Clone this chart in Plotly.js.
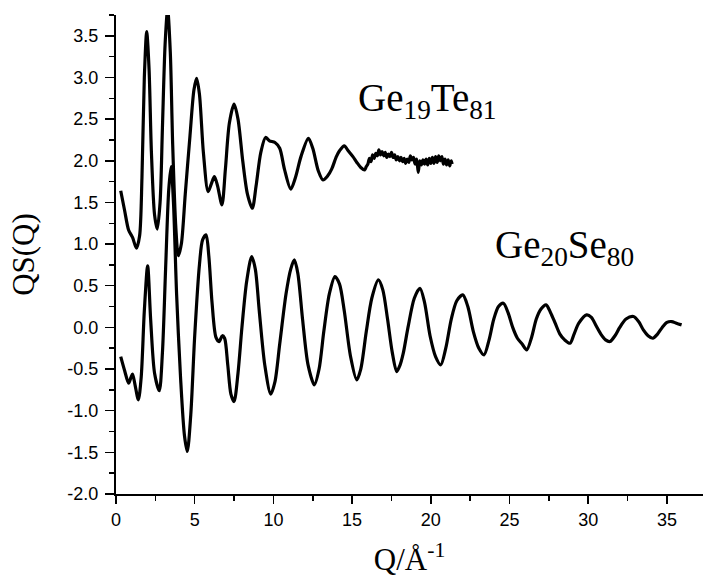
<!DOCTYPE html>
<html>
<head>
<meta charset="utf-8">
<script src="https://cdn.plot.ly/plotly-3.0.1.min.js"></script>
<style>html,body{margin:0;padding:0;background:#fff;}#chart{width:704px;height:577px;}</style>
</head>
<body>
<div id="chart"></div>
<script>
// Ge19Te81 curve
const teQ = [0.30,0.55,0.80,1.05,1.30,1.50,1.65,1.80,1.95,2.10,2.25,2.45,2.62,2.80,2.95,3.12,3.28,3.45,3.60,3.80,3.96,4.15,4.40,4.70,4.95,5.12,5.30,5.55,5.85,6.05,6.25,6.45,6.73,6.95,7.20,7.50,7.75,8.05,8.35,8.66,8.90,9.20,9.50,9.75,10.10,10.40,10.70,11.10,11.40,11.75,12.22,12.50,12.85,13.15,13.45,13.70,14.00,14.20,14.50,14.75,15.05,15.30,15.55,15.80,
  15.9,16.0,16.1,16.2,16.3,16.4,16.5,16.6,16.7,16.8,16.9,17.0,17.1,17.2,17.3,17.4,17.5,17.6,17.7,17.8,17.9,18.0,18.1,18.2,18.3,18.4,18.5,18.6,18.7,18.8,18.9,19.0,19.1,19.2,19.3,19.4,19.5,19.6,19.7,19.8,19.9,20.0,20.1,20.2,20.3,20.4,20.5,20.6,20.7,20.8,20.9,21.0,21.1,21.2,21.3,21.35];
const teS = [1.64,1.40,1.17,1.08,0.95,1.10,1.80,3.00,3.55,3.10,2.10,1.35,1.18,1.50,2.40,3.40,3.82,3.30,2.20,1.20,0.86,1.00,1.60,2.30,2.85,2.99,2.80,2.10,1.63,1.72,1.81,1.70,1.47,1.90,2.45,2.68,2.50,2.00,1.60,1.43,1.70,2.10,2.28,2.24,2.22,2.15,1.90,1.66,1.80,2.05,2.27,2.15,1.88,1.77,1.82,1.90,2.05,2.12,2.18,2.12,2.05,1.98,1.92,1.89,
  1.93,1.96,2.03,1.99,2.07,2.03,2.09,2.06,2.13,2.07,2.11,2.06,2.10,2.04,2.08,2.05,2.10,2.04,2.07,2.01,2.05,2.00,2.04,1.99,2.03,1.97,2.02,1.98,2.06,2.01,2.04,1.96,2.02,1.86,2.00,1.95,2.01,1.96,2.02,1.95,2.03,1.97,2.04,1.97,2.05,1.98,2.06,2.00,2.05,1.96,2.02,1.95,2.01,1.94,2.00,1.96];

// Ge20Se80 curve
const seQ = [0.30,0.55,0.80,0.95,1.05,1.20,1.42,1.60,1.80,2.01,2.20,2.45,2.75,2.95,3.15,3.35,3.50,3.65,3.85,4.10,4.35,4.53,4.75,5.00,5.30,5.50,5.72,5.90,6.10,6.35,6.55,6.75,6.90,7.10,7.30,7.50,7.75,8.00,8.30,8.62,8.85,9.10,9.45,9.83,10.10,10.40,10.80,11.10,11.33,11.55,11.85,12.20,12.60,12.90,13.20,13.55,13.91,14.20,14.50,14.90,15.29,15.55,15.90,16.25,16.67,16.95,17.25,17.55,17.83,18.05,18.25,18.55,18.95,19.31,19.60,19.95,20.30,20.63,20.95,21.30,21.65,22.03,22.35,22.70,23.05,23.38,23.70,24.00,24.30,24.61,24.90,25.20,25.50,25.80,26.09,26.40,26.70,27.00,27.32,27.60,27.90,28.20,28.50,28.84,29.10,29.40,29.90,30.20,30.50,30.80,31.10,31.38,31.70,32.00,32.40,32.87,33.20,33.50,33.80,34.10,34.40,34.70,35.00,35.30,35.60,35.93];
const seS = [-0.35,-0.52,-0.67,-0.60,-0.56,-0.68,-0.87,-0.60,0.20,0.74,0.10,-0.55,-0.76,-0.30,0.70,1.65,1.93,1.50,0.40,-0.60,-1.30,-1.49,-1.05,-0.10,0.75,1.05,1.11,0.85,0.30,-0.12,-0.17,-0.10,-0.13,-0.45,-0.80,-0.89,-0.55,0.00,0.55,0.85,0.70,0.20,-0.45,-0.80,-0.65,-0.20,0.40,0.70,0.81,0.65,0.10,-0.45,-0.69,-0.50,-0.05,0.40,0.61,0.52,0.20,-0.35,-0.63,-0.50,-0.05,0.35,0.57,0.45,0.10,-0.30,-0.53,-0.45,-0.31,0.00,0.35,0.47,0.30,-0.10,-0.35,-0.45,-0.25,0.10,0.32,0.39,0.25,-0.05,-0.25,-0.33,-0.15,0.10,0.25,0.29,0.18,0.00,-0.13,-0.20,-0.27,-0.12,0.10,0.22,0.27,0.18,0.05,-0.08,-0.15,-0.19,-0.08,0.05,0.15,0.12,0.02,-0.08,-0.15,-0.17,-0.10,0.00,0.10,0.13,0.07,-0.03,-0.10,-0.13,-0.08,0.00,0.06,0.07,0.05,0.03];

const xTickVals = [0,5,10,15,20,25,30,35];
const xTickText = ['0','5','10','15','20','25','30','35'];
const yTickVals = [-2.0,-1.5,-1.0,-0.5,0.0,0.5,1.0,1.5,2.0,2.5,3.0,3.5];
const yTickText = ['-2.0','-1.5','-1.0','-0.5','0.0','0.5','1.0','1.5','2.0','2.5','3.0','3.5'];
const labelTe = 'Ge<sub>19</sub>Te<sub>81</sub>';
const labelSe = 'Ge<sub>20</sub>Se<sub>80</sub>';

const lineStyle = {color:'#000', width:3.2, shape:'spline', smoothing:0.8};
const traces = [
  {x: teQ, y: teS, mode:'lines', line: lineStyle, hoverinfo:'skip'},
  {x: seQ, y: seS, mode:'lines', line: lineStyle, hoverinfo:'skip'}
];
const tickFont = {family:'Liberation Sans, Arial, sans-serif', size:18, color:'#000'};
const serif = 'Liberation Serif, Times New Roman, serif';
const layout = {
  width:704, height:577,
  margin:{l:116, r:1, t:15, b:83},
  paper_bgcolor:'#fff', plot_bgcolor:'#fff',
  showlegend:false,
  xaxis:{
    range:[0,37.29], tickmode:'array', tickvals:xTickVals, ticktext:xTickText,
    ticks:'outside', ticklen:8, tickwidth:1.5, tickcolor:'#000',
    minor:{dtick:2.5, ticks:'outside', ticklen:5, tickwidth:1.5, tickcolor:'#000', showgrid:false},
    showline:true, linecolor:'#000', linewidth:2, showgrid:false, zeroline:false,
    tickfont:tickFont,
    title:{text:'Q/Å<sup>-1</sup>', font:{family:serif, size:31, color:'#000'}, standoff:26}
  },
  yaxis:{
    range:[-2,3.75], tickmode:'array', tickvals:yTickVals, ticktext:yTickText,
    ticks:'outside', ticklen:9, tickwidth:1.5, tickcolor:'#000',
    minor:{dtick:0.25, ticks:'outside', ticklen:5, tickwidth:1.5, tickcolor:'#000', showgrid:false},
    showline:true, linecolor:'#000', linewidth:2, showgrid:false, zeroline:false,
    tickfont:tickFont, ticklabelstandoff:3,
    title:{text:'QS(Q)', font:{family:serif, size:31, color:'#000'}, standoff:24}
  },
  annotations:[
    {x:15.25, y:2.72, xref:'x', yref:'y', text:labelTe, showarrow:false, xanchor:'left', yanchor:'middle', font:{family:serif, size:39, color:'#000'}},
    {x:23.95, y:0.96, xref:'x', yref:'y', text:labelSe, showarrow:false, xanchor:'left', yanchor:'middle', font:{family:serif, size:39, color:'#000'}}
  ]
};
Plotly.newPlot('chart', traces, layout, {staticPlot:true, displayModeBar:false});
</script>
</body>
</html>
